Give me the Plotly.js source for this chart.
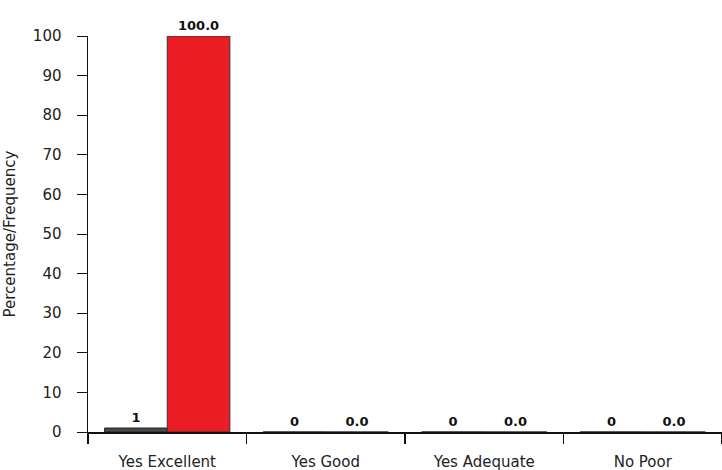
<!DOCTYPE html>
<html>
<head>
<meta charset="utf-8">
<script src="https://cdn.plot.ly/plotly-3.0.1.min.js"></script>
<style>html,body{margin:0;padding:0;background:#fff;}#chart{width:722px;height:470px;}</style>
</head>
<body>
<div id="chart"></div>
<script>
var categories = ["Yes Excellent", "Yes Good", "Yes Adequate", "No Poor"];
var frequency = [1, 0, 0, 0];
var percentage = [100.0, 0.0, 0.0, 0.0];
var yTicks = [0, 10, 20, 30, 40, 50, 60, 70, 80, 90, 100];

var fam = "DejaVu Sans, Liberation Sans, Arial, sans-serif";
var labelFont = {family: fam, size: 13, color: "#111", weight: "bold"};

var traces = [
  {
    type: "bar", name: "Frequency", x: categories, y: frequency,
    marker: {color: "#4a4a4a", line: {color: "#222", width: 1}},
    text: frequency.map(function(v){return String(v);}),
    textposition: "outside", textfont: labelFont, cliponaxis: false,
    hoverinfo: "x+y"
  },
  {
    type: "bar", name: "Percentage", x: categories, y: percentage,
    marker: {color: "#ec1c24", line: {color: "#333", width: 1}},
    text: percentage.map(function(v){return v.toFixed(1);}),
    textposition: "outside", textfont: labelFont, cliponaxis: false,
    hoverinfo: "x+y"
  }
];

var layout = {
  width: 722, height: 470,
  margin: {l: 88, r: 0, t: 36, b: 38},
  paper_bgcolor: "#fff", plot_bgcolor: "#fff",
  showlegend: false,
  barmode: "group", bargap: 0.21, bargroupgap: 0,
  font: {family: fam, size: 15, color: "#222"},
  xaxis: {
    type: "category", range: [-0.5, 3.5],
    showline: true, linecolor: "#111", linewidth: 1.5,
    tickson: "boundaries", ticks: "outside", ticklen: 10, tickcolor: "#111", tickwidth: 1.5,
    showgrid: false, zeroline: false,
    tickfont: {family: fam, size: 15, color: "#222"}, ticklabelstandoff: 15
  },
  yaxis: {
    range: [0, 100], tickvals: yTicks, ticktext: yTicks.map(String),
    showline: true, linecolor: "#111", linewidth: 1.5,
    ticks: "outside", ticklen: 10, tickcolor: "#111", tickwidth: 1,
    showgrid: false, zeroline: false,
    tickfont: {family: fam, size: 15, color: "#222"}, ticklabelstandoff: 12,
    title: {text: "Percentage/Frequency", font: {family: fam, size: 15, color: "#222"}, standoff: 13}
  }
};

Plotly.newPlot("chart", traces, layout, {displayModeBar: false, staticPlot: true});
</script>
</body>
</html>
